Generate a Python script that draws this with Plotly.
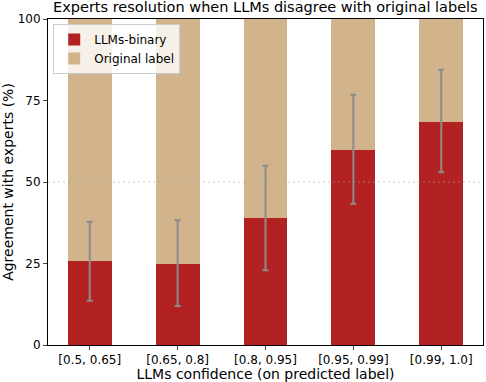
import plotly.graph_objects as go

bins = ['[0.5, 0.65]', '[0.65, 0.8]', '[0.8, 0.95]', '[0.95, 0.99]', '[0.99, 1.0]']
llm_binary = [25.8, 25.0, 39.0, 59.8, 68.5]
original_label = [100 - v for v in llm_binary]
err_upper = [37.8, 38.3, 55.0, 76.8, 84.4]
err_lower = [13.6, 12.0, 22.9, 43.3, 53.0]

x = list(range(len(bins)))

fig = go.Figure()
fig.add_trace(go.Bar(x=x, y=llm_binary, name='LLMs-binary', width=0.5,
                     marker=dict(color='#b22222', line=dict(width=0))))
fig.add_trace(go.Bar(x=x, y=original_label, name='Original label', width=0.5,
                     marker=dict(color='#d2b48c', line=dict(width=0))))
fig.add_trace(go.Scatter(x=x, y=llm_binary, mode='markers', showlegend=False,
                         marker=dict(size=0.1, color='rgba(0,0,0,0)'),
                         hoverinfo='skip',
                         error_y=dict(type='data', symmetric=False,
                                      array=[u - v for u, v in zip(err_upper, llm_binary)],
                                      arrayminus=[v - l for v, l in zip(llm_binary, err_lower)],
                                      color='#8c8c8c', thickness=2, width=3)))

# 50% reference line
fig.add_shape(type='line', xref='paper', x0=0, x1=1, y0=50, y1=50,
              line=dict(color='#a8a8a8', width=2, dash='2px,3px'), layer='above')

fig.update_layout(
    barmode='stack',
    width=486, height=382,
    margin=dict(l=48, r=3, t=19, b=37, autoexpand=False),
    template='simple_white',
    font=dict(family='DejaVu Sans', size=12, color='black'),
    title=dict(text='Experts resolution when LLMs disagree with original labels',
               x=0.546, xanchor='center', yref='container', y=0.995, yanchor='top',
               font=dict(size=14.5)),
    legend=dict(x=0.012, y=0.985, xanchor='left', yanchor='top', traceorder='normal',
                bgcolor='rgba(255,255,255,0.8)', bordercolor='#cccccc', borderwidth=1,
                font=dict(size=12), itemwidth=30, tracegroupgap=0),
    xaxis=dict(tickvals=x, ticktext=bins, range=[-0.475, 4.475], automargin=False,
               title=dict(text='LLMs confidence (on predicted label)', standoff=2),
               showline=True, mirror=True, linecolor='black', ticks='outside', ticklen=4),
    yaxis=dict(range=[0, 100], tickvals=[0, 25, 50, 75, 100], automargin=False,
               title=dict(text='Agreement with experts (%)', standoff=4),
               showline=True, mirror=True, linecolor='black', ticks='outside', ticklen=4,
               showgrid=False, zeroline=False),
)

fig.write_html("out.html", config={'displayModeBar': False},
               post_script="document.body.style.margin='0';")
